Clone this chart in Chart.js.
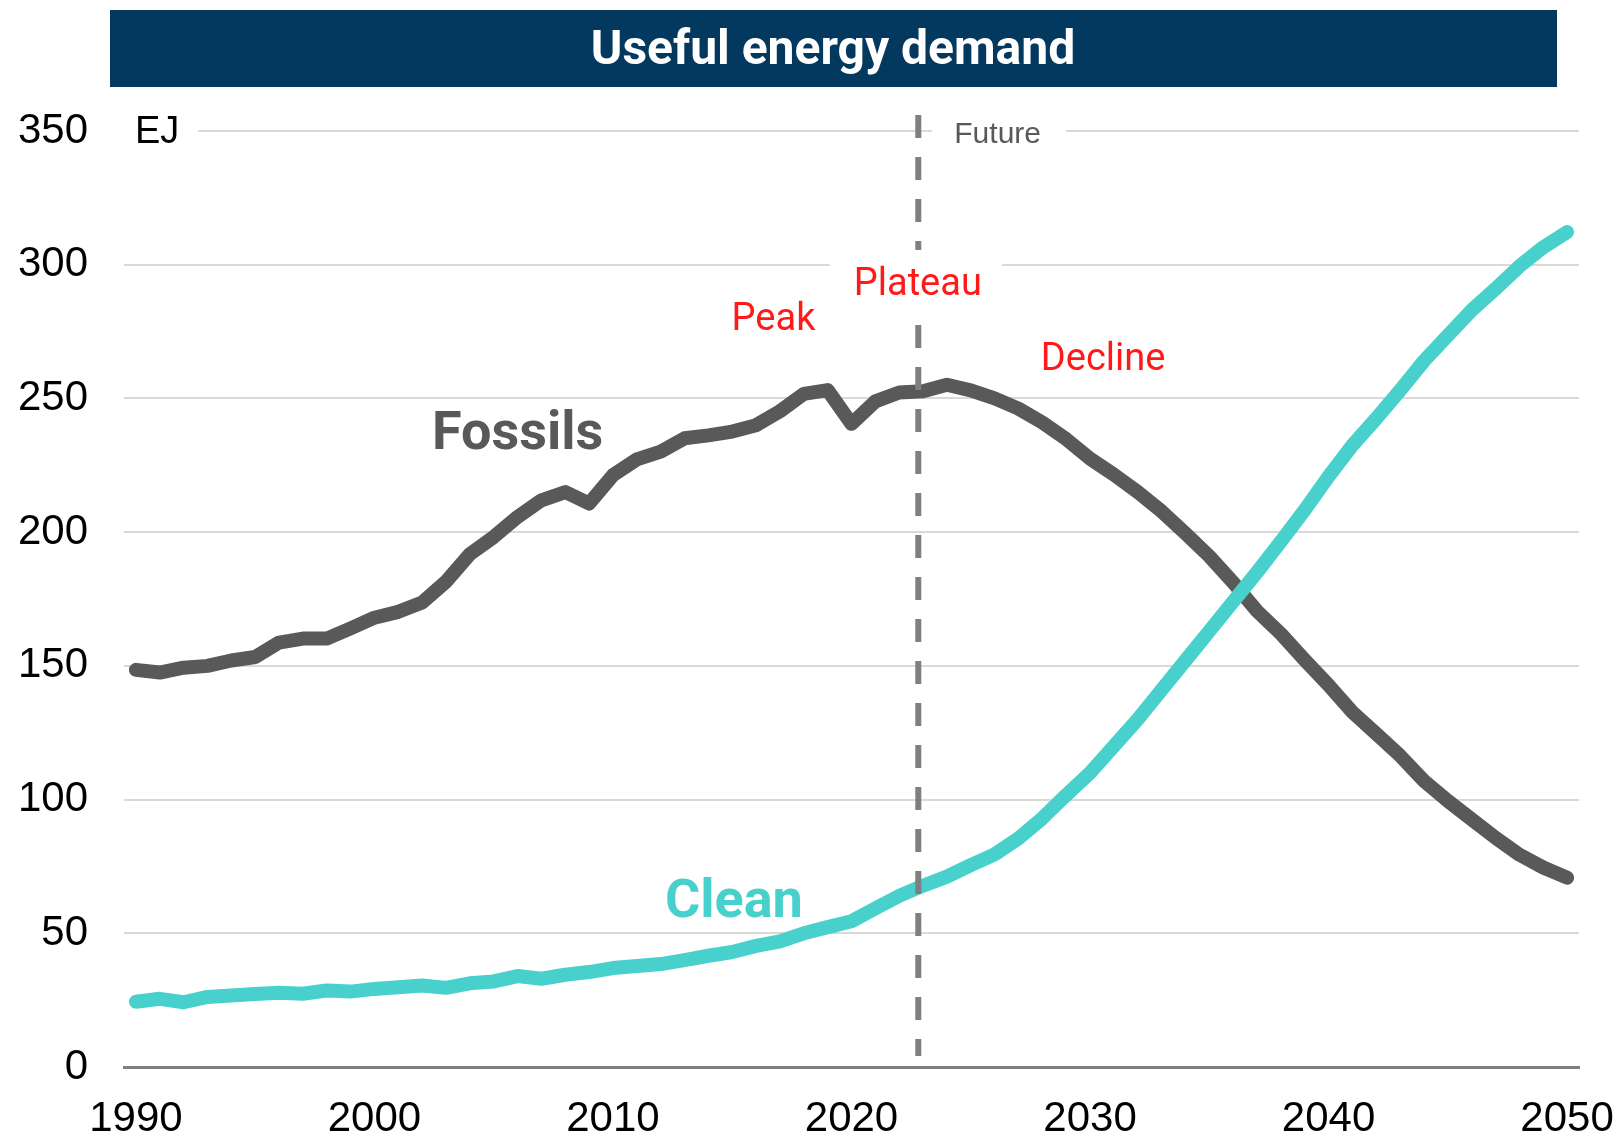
<!DOCTYPE html>
<html>
<head>
<meta charset="utf-8">
<title>Useful energy demand</title>
<script src="https://cdn.jsdelivr.net/npm/chart.js@4.4.1/dist/chart.umd.min.js"></script>
<style>
  body { margin: 0; background: #fff; }
  .wrap { width: 1620px; height: 1136px; position: relative; }
</style>
</head>
<body>
<div class="wrap"><canvas id="energy-chart"></canvas></div>
<script>
// data, EJ
var years = [1990,1991,1992,1993,1994,1995,1996,1997,1998,1999,
             2000,2001,2002,2003,2004,2005,2006,2007,2008,2009,
             2010,2011,2012,2013,2014,2015,2016,2017,2018,2019,
             2020,2021,2022,2023,2024,2025,2026,2027,2028,2029,
             2030,2031,2032,2033,2034,2035,2036,2037,2038,2039,
             2040,2041,2042,2043,2044,2045,2046,2047,2048,2049,2050];

var fossils = [148.5,147.5,149.3,150,152,153.3,158.7,160.2,160.2,164,
               168,170.2,173.7,181.5,191.8,198.2,205.7,211.9,215,210.7,
               221.3,227.2,230.1,235.1,236.2,237.6,240,245.2,251.7,253.1,
               240.5,248.9,252.2,252.7,255.1,253,250,246.2,241,234.8,
               227.5,221.5,215,207.8,199.5,191,181.2,170.5,162,152.2,
               142.8,132.7,124.6,116.4,107,99.5,92.6,85.7,79.4,74.6,70.8];

var clean = [24.4,25.5,24.2,26.2,26.7,27.3,27.8,27.4,28.6,28.2,
             29.2,29.8,30.5,29.6,31.3,32,34,33,34.5,35.5,
             37,37.8,38.5,40,41.6,43,45.3,47,50,52.3,
             54.5,59.3,64,67.8,71.2,75.5,79.5,85.5,93,101.7,
             110,120,130,141,152,163,174,185,196.5,208.3,
             220.8,232.5,242.5,253,264,273.5,283,291,299.4,306.5,312.2];

var xTicks = [1990,2000,2010,2020,2030,2040,2050];
var yTicks = [0,50,100,150,200,250,300,350];
var futureYear = 2022.8;

var titleText = 'Useful energy demand';

// text notes placed in data units (year, EJ)
var notes = [
  { text: 'Fossils', x: 2006,    y: 231, font: 'bold 54px Roboto', color: '#595959' },
  { text: 'Clean',   x: 2015.07, y: 56,  font: 'bold 54px Roboto', color: '#48d1cc' },
  { text: 'Peak',    x: 2016.73, y: 275.6, font: '38px Roboto', color: '#ff1a1a' },
  { text: 'Plateau', x: 2022.78, y: 288.7, font: '38px Roboto', color: '#ff1a1a', mask: true },
  { text: 'Decline', x: 2030.55, y: 260.7, font: '38px Roboto', color: '#ff1a1a' }
];


/*****************************  Helpers  *********************************/
function points(vals) {
	return years.map(function(yr, i) { return { x: yr, y: vals[i] }; });
}


/*****************************  Plugin  **********************************/
var decor = {
	id: 'decor',
	beforeDraw: function(chart) {
		var c = chart.ctx;
		c.save();
		c.fillStyle = '#ffffff';
		c.fillRect(0, 0, chart.width, chart.height);
		// title banner
		c.fillStyle = '#03395f';
		c.fillRect(110, 10, 1447, 77);
		c.fillStyle = '#ffffff';
		c.font = 'bold 48px Roboto';
		c.textAlign = 'center';
		c.textBaseline = 'middle';
		c.fillText(titleText, 833, 52);
		c.restore();
	},
	afterDatasetsDraw: function(chart) {
		var c = chart.ctx;
		var xs = chart.scales.x, ys = chart.scales.y, area = chart.chartArea;
		var xTop = ys.getPixelForValue(350);

		c.save();
		// future divider
		var fx = xs.getPixelForValue(futureYear);
		c.strokeStyle = '#7f7f7f';
		c.lineWidth = 6;
		c.setLineDash([23, 19]);
		c.beginPath();
		c.moveTo(fx, xTop - 16);
		c.lineTo(fx, area.bottom - 11);
		c.stroke();
		c.setLineDash([]);

		// EJ unit
		c.font = '38px "Liberation Sans", Arial';
		c.textAlign = 'left';
		c.textBaseline = 'alphabetic';
		var w = c.measureText('EJ').width;
		c.fillStyle = '#ffffff';
		c.fillRect(area.left, xTop - 20, 11 + w + 19, 40);
		c.fillStyle = '#000000';
		c.fillText('EJ', area.left + 11, xTop + 12);

		// Future
		c.font = '30px "Liberation Sans", Arial';
		w = c.measureText('Future').width;
		var fl = fx + 36;
		c.fillStyle = '#ffffff';
		c.fillRect(fl - 22, xTop - 20, w + 47, 40);
		c.fillStyle = '#595959';
		c.fillText('Future', fl, xTop + 12);

		// red and series notes
		notes.forEach(function(n) {
			var px = xs.getPixelForValue(n.x), py = ys.getPixelForValue(n.y);
			c.font = n.font;
			c.textAlign = 'center';
			c.textBaseline = 'alphabetic';
			if (n.mask) {
				var mw = c.measureText(n.text).width;
				c.fillStyle = '#ffffff';
				c.fillRect(px - mw / 2 - 24, py - 45, mw + 44, 72);
			}
			c.fillStyle = n.color;
			c.fillText(n.text, px, py);
		});
		c.restore();
	}
};


/*****************************  Chart.js  *********************************/
var ctx = document.getElementById('energy-chart').getContext('2d');

new Chart(ctx, {
	type: 'line',
	data: {
		datasets: [
			{
				label: 'Clean',
				data: points(clean),
				borderColor: '#48d1cc',
				borderWidth: 14,
				borderCapStyle: 'round',
				borderJoinStyle: 'round',
				pointRadius: 0,
				tension: 0
			},
			{
				label: 'Fossils',
				data: points(fossils),
				borderColor: '#595959',
				borderWidth: 14,
				borderCapStyle: 'round',
				borderJoinStyle: 'round',
				pointRadius: 0,
				tension: 0
			}
		]
	},
	options: {
		responsive: true,
		maintainAspectRatio: false,
		animation: false,
		layout: { padding: { top: 131, right: 41, left: 0, bottom: 0 } },
		plugins: {
			legend: { display: false },
			tooltip: { enabled: false },
			title: { display: false }
		},
		scales: {
			x: {
				type: 'linear',
				min: 1989.5,
				max: 2050.5,
				afterBuildTicks: function(scale) {
					scale.ticks = xTicks.map(function(v) { return { value: v }; });
				},
				afterFit: function(scale) {
					scale.height = 69;
					// labels may hang over the edges, the layout padding covers them
					scale.paddingLeft = 0;
					scale.paddingRight = 0;
				},
				grid: { display: false, drawTicks: false },
				border: { display: true, color: '#7f7f7f', width: 3 },
				ticks: {
					padding: 27,
					maxRotation: 0,
					autoSkip: false,
					color: '#000000',
					font: { family: '"Liberation Sans", Arial', size: 42 },
					callback: function(v) { return String(v); }
				}
			},
			y: {
				min: 0,
				max: 350,
				afterBuildTicks: function(scale) {
					scale.ticks = yTicks.map(function(v) { return { value: v }; });
				},
				afterFit: function(scale) { scale.width = 124; },
				grid: { color: '#d9d9d9', lineWidth: 2, drawTicks: false },
				border: { display: false },
				ticks: {
					padding: 36,
					color: '#000000',
					font: { family: '"Liberation Sans", Arial', size: 42 }
				}
			}
		}
	},
	plugins: [decor]
});
</script>
</body>
</html>
